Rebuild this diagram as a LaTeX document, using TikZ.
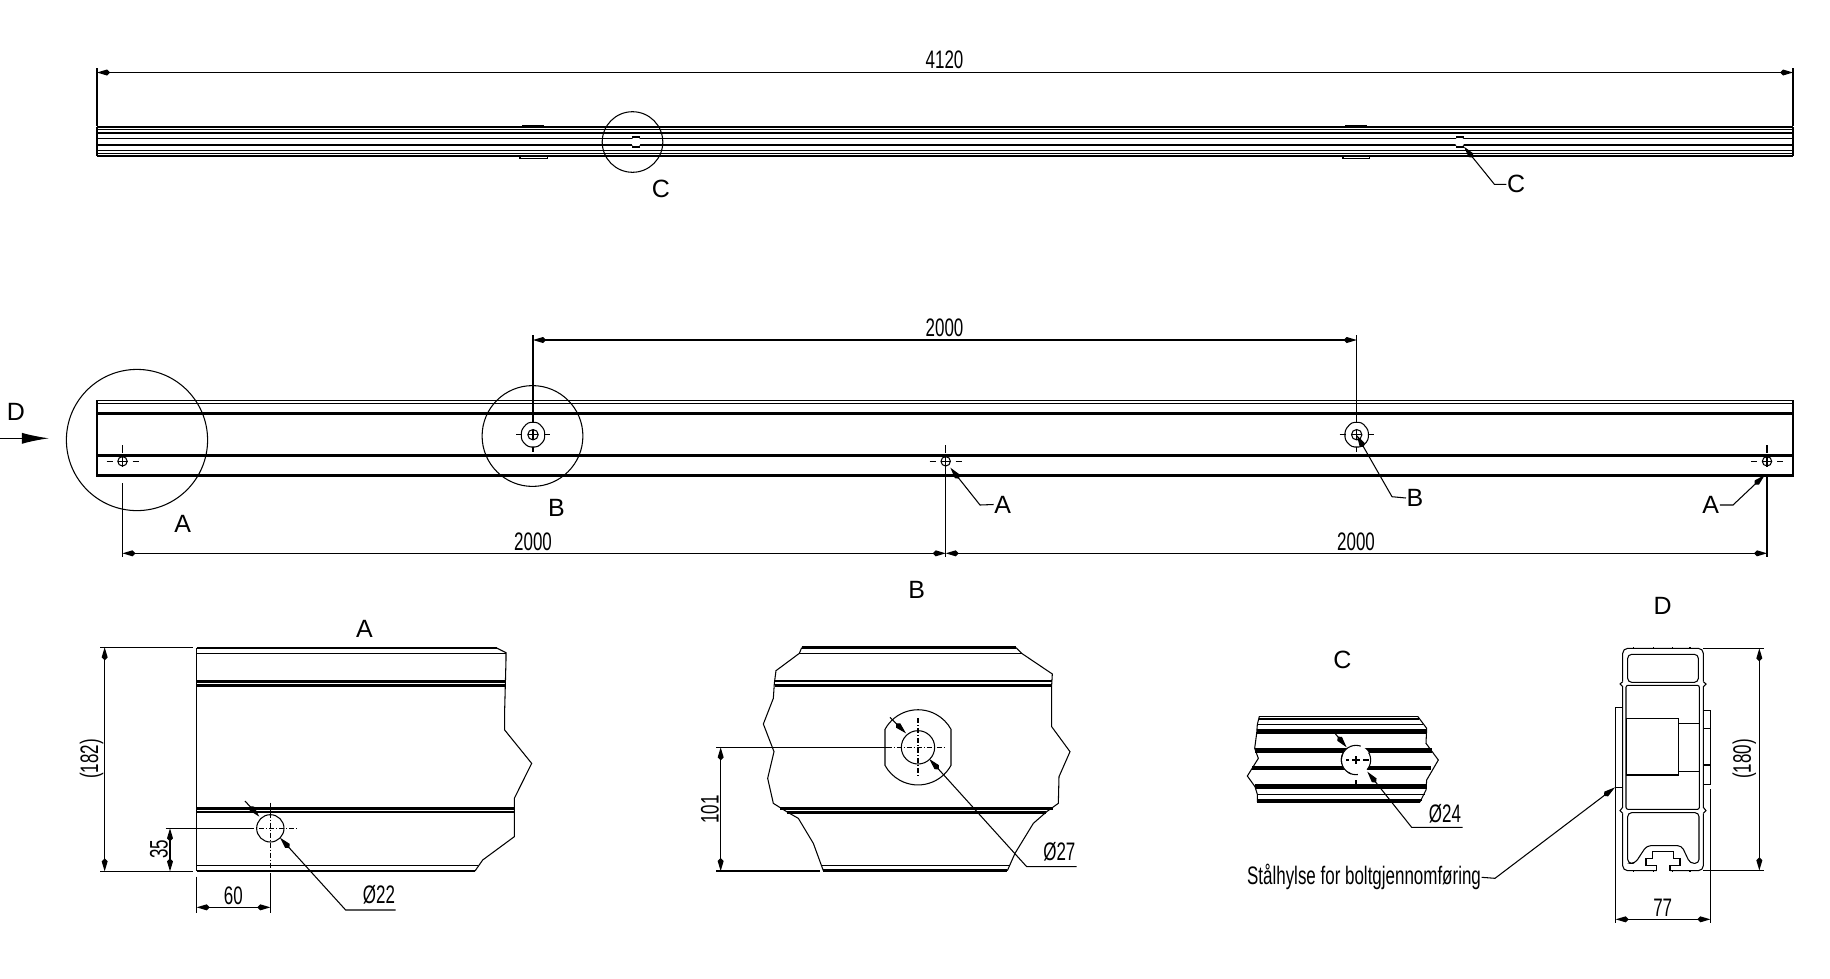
\documentclass[tikz,border=0pt]{standalone}
\usepackage{fontspec}
\setmainfont{Liberation Sans}
\newfontfamily\dimfont[FakeStretch=0.67]{Liberation Sans}
\usetikzlibrary{arrows.meta}

\tikzset{
  thinline/.style={line width=0.3pt},
  thickline/.style={line width=0.75pt},
  heavyline/.style={line width=1.3pt},
  bandline/.style={line width=0.5pt},
  dimline/.style={line width=0.35pt,{Kite[length=0.13cm,width=0.06cm,inset=0.03cm]}-{Kite[length=0.13cm,width=0.06cm,inset=0.03cm]}},
  leader/.style={line width=0.3pt,-{Kite[length=0.14cm,width=0.06cm,inset=0.03cm]}},
  centerline/.style={line width=0.3pt,dash pattern=on 0.05cm off 0.02cm on 0.01cm off 0.02cm},
  dimtext/.style={font=\dimfont\fontsize{7.2}{8.5}\selectfont,inner sep=0pt},
  letter/.style={font=\fontsize{7.1}{8.5}\selectfont,inner sep=0pt}
}

\begin{document}
\begin{tikzpicture}[x=0.01cm,y=-0.01cm]
\useasboundingbox (0,0) rectangle (1830,978);

% top view
\foreach \yy in {127,132.8,138.5,145,150.6,156}
  \draw[bandline] (97,\yy) -- (1793,\yy);
\foreach \yy in {129.7,153.2}
  \draw[line width=0.2pt] (97,\yy) -- (1793,\yy);
\draw[thinline] (97,127) -- (97,156) (1793,127) -- (1793,156);
\draw[bandline] (522,126) -- (544,126) (1345,126) -- (1367,126);
\draw[thinline] (520,156.5) rectangle (547.5,158.7) (1343,156.5) rectangle (1369.6,158.7);
\coordinate (holeCa) at (636,142);
\coordinate (holeCb) at (1459.6,142);
\fill[white] (holeCa) circle[radius=5] (holeCb) circle[radius=5];
\draw[bandline] (632,137) -- (640,137) (632,147) -- (640,147);
\draw[bandline] (1456,137) -- (1464,137) (1456,147) -- (1464,147);
\draw[thinline] (632.5,142) circle[radius=30.3];
\node[letter] (lblCa) at (661,189) {C};
\node[letter] (lblCb) at (1516,184.3) {C};
\coordinate (kinkCb) at (1494.4,184.3);
\draw[leader] (lblCb.west) -- (kinkCb) -- (1464,146.7);

\coordinate (topL) at (97,72.5);
\coordinate (topR) at (1793,72.5);
\draw[thinline] (97,68) -- (97,126) (1793,68) -- (1793,126);
\draw[dimline] (topL) -- (topR);
\node[dimtext] (dimTop) at (944.5,60) {4120};

% front view
\draw[thinline] (97,400.8) rectangle (1793,476);
\draw[thinline] (97,403.6) -- (1793,403.6);
\foreach \yy in {413.3,455.3,475.3}
  \draw[thickline] (97,\yy) -- (1793,\yy);

\draw[thinline] (137,440) circle[radius=70.6];
\draw[thinline] (532.5,436) circle[radius=50.4];
\node[letter] (lblA) at (182.6,524) {A};
\node[letter] (lblB) at (556.5,507.7) {B};
\node[letter] (lblD) at (15.8,412.3) {D};
\coordinate (arrowD) at (49,438.3);
\draw[line width=0.35pt,-{Latex[length=0.27cm,width=0.11cm]}] (0,438.3) -- (arrowD);

\foreach \xx in {122.5,945.7,1767} {
  \draw[thinline] (\xx,461.3) circle[radius=4.7];
  \draw[thinline] (\xx-5,461.3) -- (\xx+5,461.3) (\xx,456) -- (\xx,467);
  \draw[thinline] (\xx-16,461.3) -- (\xx-10,461.3) (\xx+10,461.3) -- (\xx+16,461.3);
  \draw[thinline] (\xx,445) -- (\xx,453);
}
\foreach \xx in {533,1356.7} {
  \draw[thinline,rounded corners=0.03cm] (\xx-11.7,430) -- (\xx-5,422.3) -- (\xx+5,422.3) -- (\xx+11.7,430) -- (\xx+11.7,440) -- (\xx+5,447) -- (\xx-5,447) -- (\xx-11.7,440) -- cycle;
  \draw[thinline] (\xx,430) -- (\xx,440) (\xx-5,434.7) -- (\xx+5,434.7);
  \draw[thinline] (\xx,434.7) circle[radius=5.2];
  \draw[thinline] (\xx-17,434.7) -- (\xx-11,434.7) (\xx+11,434.7) -- (\xx+17,434.7) (\xx,447) -- (\xx,452);
}

\coordinate (upL) at (533,340);
\coordinate (upR) at (1356.7,340);
\draw[thinline] (533,335) -- (533,422) (1356.7,335) -- (1356.7,422);
\draw[dimline] (upL) -- (upR);
\node[dimtext] (dimUp) at (944.5,328) {2000};

\coordinate (lowL) at (122.5,553.3);
\coordinate (lowM) at (945.7,553.3);
\coordinate (lowR) at (1767,553.3);
\draw[thinline] (122.5,483) -- (122.5,557) (945.7,458) -- (945.7,557) (1767,477) -- (1767,557);
\draw[dimline] (lowL) -- (lowM);
\draw[dimline] (lowM) -- (lowR);
\node[dimtext] (dimLowA) at (533,541.7) {2000};
\node[dimtext] (dimLowB) at (1356,541.7) {2000};

\node[letter] (lblAm) at (1002.6,504.5) {A};
\node[letter] (lblBm) at (1415,498) {B};
\node[letter] (lblAr) at (1710.8,505) {A};
\draw[leader] (lblAm.west) -- (980,505) -- (950.4,467.7);
\draw[leader] (lblBm.west) -- (1392,496.7) -- (1356.7,435);
\draw[leader] (lblAr.east) -- (1733,505) -- (1764.8,475);

% detail A
\node[letter] (titleA) at (364.5,629) {A};
\begin{scope}[shift={(50,610)},scale=1/3]
\draw[thinline] (440,114) -- (440,783);
\draw[thickline] (440,114) -- (1340,114);
\draw[thinline] (440,130) -- (1368,130);
\draw[thinline] (1340,114) -- (1368,128) -- (1368,150) -- (1364,300) -- (1364,360) -- (1445,460) -- (1393,565) -- (1393,680) -- (1298,750) -- (1275,783);
\draw[thickline] (440,214) -- (1366,214) (440,226) -- (1366,226);
\draw[thickline] (440,595) -- (1393,595) (440,606) -- (1393,606);
\draw[thinline] (440,767) -- (1285,767);
\draw[thickline] (440,783) -- (1275,783);
\coordinate (holeA) at (661,655);
\draw[thinline,fill=white] (holeA) circle[radius=41];
\draw[centerline] (598,655) -- (740,655);
\draw[centerline] (661,578) -- (661,790);
\draw[thinline] (347,655) -- (600,655) (150,112) -- (428,112) (150,784) -- (428,784);
\draw[thinline] (440,800) -- (440,908) (661,790) -- (661,908);
\coordinate (a1) at (164,112);
\coordinate (a2) at (164,784);
\coordinate (a3) at (360,655);
\coordinate (a4) at (360,784);
\coordinate (a5) at (440,892);
\coordinate (a6) at (661,892);
\draw[dimline] (a1) -- (a2);
\draw[dimline] (a3) -- (a4);
\draw[dimline] (a5) -- (a6);
\coordinate (a7) at (585,573);
\coordinate (a8) at (628,620);
\draw[leader] (a7) -- (a8);
\node[dimtext,rotate=90] (dim182) at (125,447) {(182)};
\node[dimtext,rotate=90] (dim35) at (327,718) {35};
\node[dimtext] (dim60) at (550,858) {60};
\node[dimtext] (dim22) at (987,855) {Ø22};
\draw[leader] (1037,900) -- (887,900) -- (690,683);
\end{scope}

% detail B
\node[letter] (titleB) at (916.7,590) {B};
\begin{scope}[shift={(680,570)},scale=1/3]
\draw[thickline] (365,233) -- (1008,233);
\draw[thinline] (358,250) -- (1025,250);
\draw[thinline] (365,233) -- (358,250) -- (288,302) -- (283,340) -- (280,385) -- (250,462) -- (282,545) -- (263,625) -- (280,700) -- (320,725) -- (355,745) -- (400,820) -- (430,902);
\draw[thinline] (1008,233) -- (1025,250) -- (1117,312) -- (1115,345) -- (1115,470) -- (1170,545) -- (1137,620) -- (1135,700) -- (1100,725) -- (1060,760) -- (1005,850) -- (982,902);
\draw[thickline] (284,333) -- (1117,333) (284,346) -- (1115,346);
\draw[thickline] (300,715) -- (1118,715) (320,727) -- (1098,727);
\draw[thinline] (425,886) -- (988,886);
\draw[thickline] (430,902) -- (982,902);
\coordinate (holeB) at (714,532);
\draw[thinline] (615,478) arc[start angle=208.6,end angle=331.4,radius=112.8] -- (813,586) arc[start angle=28.6,end angle=151.4,radius=112.8] -- cycle;
\draw[thinline] (holeB) circle[radius=50];
\draw[centerline] (620,532) -- (800,532);
\draw[centerline] (714,445) -- (714,620);
\draw[thinline] (108,532) -- (620,532) (108,903) -- (420,903);
\coordinate (b1) at (122,532);
\coordinate (b2) at (122,903);
\draw[dimline] (b1) -- (b2);
\coordinate (b3) at (630,442);
\coordinate (b4) at (678,490);
\draw[leader] (b3) -- (b4);
\node[dimtext,rotate=90] (dim101) at (90,718) {101};
\node[dimtext] (dim27) at (1138,845) {Ø27};
\draw[leader] (1190,890) -- (1040,890) -- (748,567);
\end{scope}

% detail C
\node[letter] (titleC) at (1342.3,660) {C};
\begin{scope}[shift={(1240,640)},scale=1/3]
\draw[thinline] (58,229) -- (533,229);
\draw[bandline] (58,236) -- (537,236);
\draw[thinline] (52,253) -- (548,253);
\foreach \yy/\xa/\xb in {275/50/558,331/45/575,384/37/573,440/45/560}
  \draw[heavyline] (\xa,\yy) -- (\xb,\yy);
\draw[thinline] (52,463) -- (555,463);
\draw[bandline] (52,480) -- (545,480) (52,486) -- (540,486);
\draw[thinline] (58,229) -- (52,253) -- (50,280) -- (44,325) -- (55,355) -- (22,408) -- (45,440) -- (52,463) -- (52,486);
\draw[thinline] (533,229) -- (560,265) -- (558,310) -- (595,360) -- (560,420) -- (558,450) -- (540,486);
\coordinate (holeC) at (348,360);
\fill[white] (holeC) circle[radius=44];
\draw[thinline,dashed] (holeC) circle[radius=44];
\draw[thinline] (holeC) ++(110:44) arc[start angle=110,end angle=250,radius=44];
\draw[thinline] (336,360) -- (360,360) (348,348) -- (348,372);
\draw[thinline] (318,360) -- (326,360) (370,360) -- (386,360) (348,420) -- (348,435);
\coordinate (c1) at (275,268);
\coordinate (c2) at (320,322);
\draw[leader] (c1) -- (c2);
\node[dimtext] (dim24) at (615,520) {Ø24};
\draw[leader] (668,562) -- (515,562) -- (382,395);
\end{scope}

% detail D
\node[letter] (titleD) at (1662.7,605.7) {D};
\begin{scope}[shift={(1580,590)},scale=1/3]
\draw[thinline,rounded corners=0.05cm] (128,275) -- (128,175) -- (370,175) -- (370,275);
\draw[thinline] (128,275) -- (120,282) -- (128,290) -- (128,652) -- (120,662) -- (128,670);
\draw[thinline] (370,275) -- (378,282) -- (370,290) -- (370,652) -- (378,662) -- (370,670);
\draw[thinline,rounded corners=0.05cm] (128,670) -- (128,842) -- (230,842);
\draw[thinline,rounded corners=0.05cm] (370,670) -- (370,842) -- (270,842);
\draw[thinline] (230,842) -- (230,827) -- (198,827) -- (198,805) -- (217,805) -- (217,785) -- (280,785) -- (280,805) -- (300,805) -- (300,827) -- (270,827) -- (270,842);
\draw[thinline,rounded corners=0.04cm] (143,193) rectangle (355,277);
\draw[thinline,rounded corners=0.02cm] (138,286) rectangle (358,658);
\draw[thinline,rounded corners=0.04cm] (165,820) -- (143,820) -- (143,668) -- (357,668) -- (357,820) -- (330,820) -- (305,767) -- (200,767) -- cycle;
\draw[thinline] (140,385) rectangle (296,555);
\draw[thinline] (296,400) -- (358,400) (296,545) -- (358,545);
\draw[thinline] (128,352) -- (107,352) -- (107,1000);
\draw[thinline] (107,592) -- (128,592);
\draw[thinline] (370,362) rectangle (391,583);
\draw[thinline] (370,415) -- (391,415) (370,525) -- (391,525);
\draw[thinline] (391,597) -- (391,1000);
\draw[thinline] (370,175) -- (552,175) (370,841) -- (552,841);
\foreach \xx in {160,220,277,330}
  \draw[thinline] (\xx,175) -- (\xx,170) (\xx,842) -- (\xx,846);
\coordinate (d1) at (107,988);
\coordinate (d2) at (391,988);
\coordinate (d3) at (538,175);
\coordinate (d4) at (538,841);
\draw[dimline] (d1) -- (d2);
\draw[dimline] (d3) -- (d4);
\node[dimtext] (dim77) at (248,953) {77};
\node[dimtext,rotate=90] (dim180) at (493,507) {(180)};
\coordinate (tipSleeve) at (105,592);
\end{scope}
\node[dimtext] (lblSleeve) at (1364,877.3) {Stålhylse for boltgjennomføring};
\coordinate (kinkSleeve) at (1495,878.3);
\draw[leader] (lblSleeve.east) -- (kinkSleeve) -- (tipSleeve);

\end{tikzpicture}
\end{document}
